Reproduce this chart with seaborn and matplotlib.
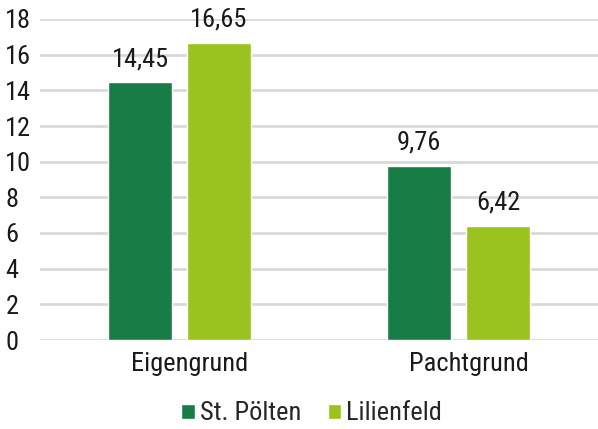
import numpy as np
import pandas as pd
import matplotlib
matplotlib.use('Agg')
import matplotlib.pyplot as plt
import matplotlib.transforms as mtransforms
import seaborn as sns
from matplotlib import font_manager

# Data
categories = ['Eigengrund', 'Pachtgrund']
series_names = ['St. Pölten', 'Lilienfeld']
st_poelten = [14.45, 9.76]
lilienfeld = [16.65, 6.42]
colors = ['#177C46', '#9BC31F']

df = pd.DataFrame({
    'Kategorie': categories * 2,
    'Wert': st_poelten + lilienfeld,
    'Ort': [series_names[0]] * 2 + [series_names[1]] * 2,
})

sns.set_theme(style='white')
names = {f.name for f in font_manager.fontManager.ttflist}
fam = 'Roboto Condensed' if 'Roboto Condensed' in names else 'Roboto'
plt.rcParams['font.family'] = [fam, 'DejaVu Sans']
fs = 19

fig = plt.figure(figsize=(5.98, 4.29), dpi=100)
ax = fig.add_axes([40 / 598, 1 - 340 / 429, 1 - 40 / 598, (340 - 19) / 429])

sns.barplot(data=df, x='Kategorie', y='Wert', hue='Ort', palette=colors,
            width=0.566, gap=0.2, ax=ax, saturation=1, legend=True)

# value labels
for cont in ax.containers:
    ax.bar_label(cont, labels=[f'{v:.2f}'.replace('.', ',') for v in cont.datavalues],
                 padding=8, fontsize=fs, color='#1a1a1a')

ax.set_xlim(-0.5, 1.5)
ax.set_ylim(0, 18)
ax.set_yticks(range(0, 19, 2))
ax.yaxis.grid(True, color='#D9D9D9', linewidth=2)
ax.set_axisbelow(True)
for s in ax.spines.values():
    s.set_visible(False)
ax.tick_params(axis='y', length=0, labelsize=fs, pad=25, labelcolor='#1a1a1a')
ax.tick_params(axis='x', length=0, labelsize=fs, pad=9, labelcolor='#1a1a1a')
for t in ax.get_yticklabels():
    t.set_horizontalalignment('left')
# category labels sit a little right of the group centre
shift = mtransforms.ScaledTranslation(10 / 100, 0, fig.dpi_scale_trans)
for t in ax.get_xticklabels():
    t.set_transform(t.get_transform() + shift)
ax.set_xlabel('')
ax.set_ylabel('')

ax.legend(loc='lower center', bbox_to_anchor=(0.487, -0.34), ncol=2,
          frameon=False, fontsize=fs, handlelength=0.5, handleheight=0.5,
          handletextpad=0.2, columnspacing=1.0)

fig.savefig('out.png', dpi=100)
